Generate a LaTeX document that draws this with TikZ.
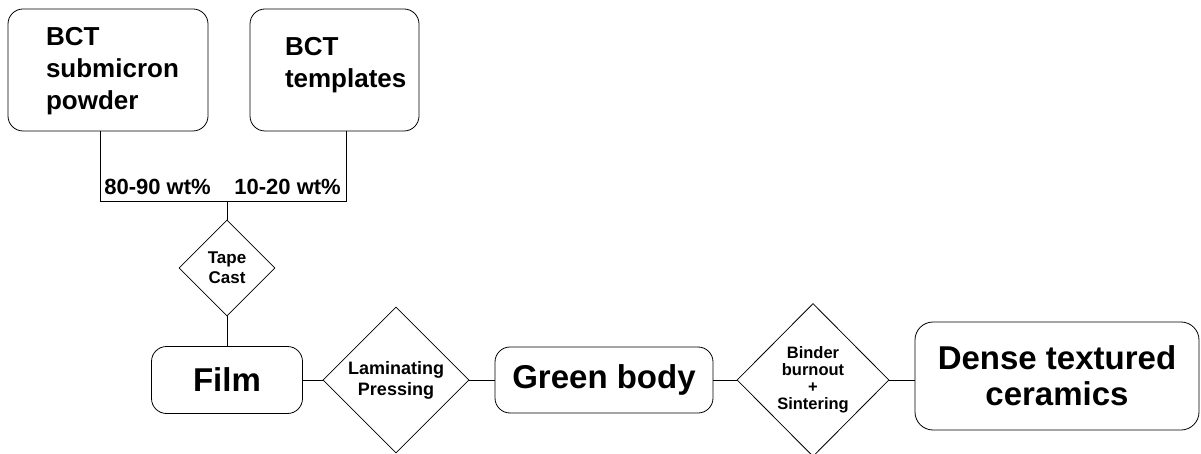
\documentclass[tikz,border=0pt]{standalone}
\usepackage{fontspec}
\setmainfont{Liberation Sans}
\usetikzlibrary{shapes.geometric}

\begin{document}
\begin{tikzpicture}[x=1pt, y=-1pt, line width=0.8pt,
  box/.style={draw, rounded corners=15pt, inner sep=0pt},
  gate/.style={draw, diamond, inner sep=0pt, align=center},
  big/.style={font=\fontsize{33}{36}\selectfont\bfseries, align=center},
  mid/.style={font=\fontsize{26}{32}\selectfont\bfseries, align=left, inner sep=0pt},
  wt/.style={font=\fontsize{22}{24}\selectfont\bfseries, inner sep=0pt, anchor=base west}]

\useasboundingbox (0,0) rectangle (1201,454);

%%%%%%%%%%%%%%%%%%%%%%%%%%%%%%%%%%%%%%%%%%%%%%%%%%%%%%
% STARTING POWDERS
%%%%%%%%%%%%%%%%%%%%%%%%%%%%%%%%%%%%%%%%%%%%%%%%%%%%%%

\node[
box,
minimum width=200pt,
minimum height=122pt
] (powder) at (108,70)
{};

\node[mid, anchor=north west]
(powdertext)
at ([xshift=38pt,yshift=-18pt]powder.north west)
{BCT\\submicron\\powder};

\node[
box,
minimum width=169pt,
minimum height=122pt
] (templates) at (334.5,70)
{};

\node[mid, anchor=north west]
(templatestext)
at ([xshift=35pt,yshift=-28pt]templates.north west)
{BCT\\templates};

%%%%%%%%%%%%%%%%%%%%%%%%%%%%%%%%%%%%%%%%%%%%%%%%%%%%%%
% MIXING
%%%%%%%%%%%%%%%%%%%%%%%%%%%%%%%%%%%%%%%%%%%%%%%%%%%%%%

\coordinate (mix) at (227,201);

\draw ([xshift=-8pt]powder.south) |- (mix);
\draw ([xshift=11.5pt]templates.south) |- (mix);

\node[wt] (powderwt) at (104,195) {80-90 wt\%};
\node[wt] (templateswt) at (234,195) {10-20 wt\%};

%%%%%%%%%%%%%%%%%%%%%%%%%%%%%%%%%%%%%%%%%%%%%%%%%%%%%%
% TAPE CASTING
%%%%%%%%%%%%%%%%%%%%%%%%%%%%%%%%%%%%%%%%%%%%%%%%%%%%%%

\node[
gate,
font=\fontsize{17}{20}\selectfont\bfseries,
minimum width=96pt,
minimum height=96pt
] (tape) at (227,268)
{Tape\\Cast};

\node[
box,
big,
minimum width=151pt,
minimum height=67pt
] (film) at (227,380)
{Film};

\draw (mix) -- (tape);
\draw (tape) -- (film);

%%%%%%%%%%%%%%%%%%%%%%%%%%%%%%%%%%%%%%%%%%%%%%%%%%%%%%
% LAMINATING
%%%%%%%%%%%%%%%%%%%%%%%%%%%%%%%%%%%%%%%%%%%%%%%%%%%%%%

\node[
gate,
font=\fontsize{18}{21}\selectfont\bfseries,
minimum width=146pt,
minimum height=146pt
] (laminate) at (396,380)
{Laminating\\Pressing};

\node[
box,
big,
minimum width=218pt,
minimum height=66pt
] (green) at (604,380)
{Green body};

\draw (film) -- (laminate);
\draw (laminate) -- (green);

%%%%%%%%%%%%%%%%%%%%%%%%%%%%%%%%%%%%%%%%%%%%%%%%%%%%%%
% SINTERING
%%%%%%%%%%%%%%%%%%%%%%%%%%%%%%%%%%%%%%%%%%%%%%%%%%%%%%

\node[
gate,
font=\fontsize{16.5}{17}\selectfont\bfseries,
minimum width=152pt,
minimum height=153pt
] (sinter) at (813,380)
{Binder\\burnout\\+\\Sintering};

\node[
box,
big,
rounded corners=18pt,
minimum width=284pt,
minimum height=108pt
] (ceramics) at (1057,376)
{Dense textured\\ceramics};

\draw (green) -- (sinter);
\draw (sinter.east) -- (sinter.east -| ceramics.west);

\end{tikzpicture}
\end{document}
